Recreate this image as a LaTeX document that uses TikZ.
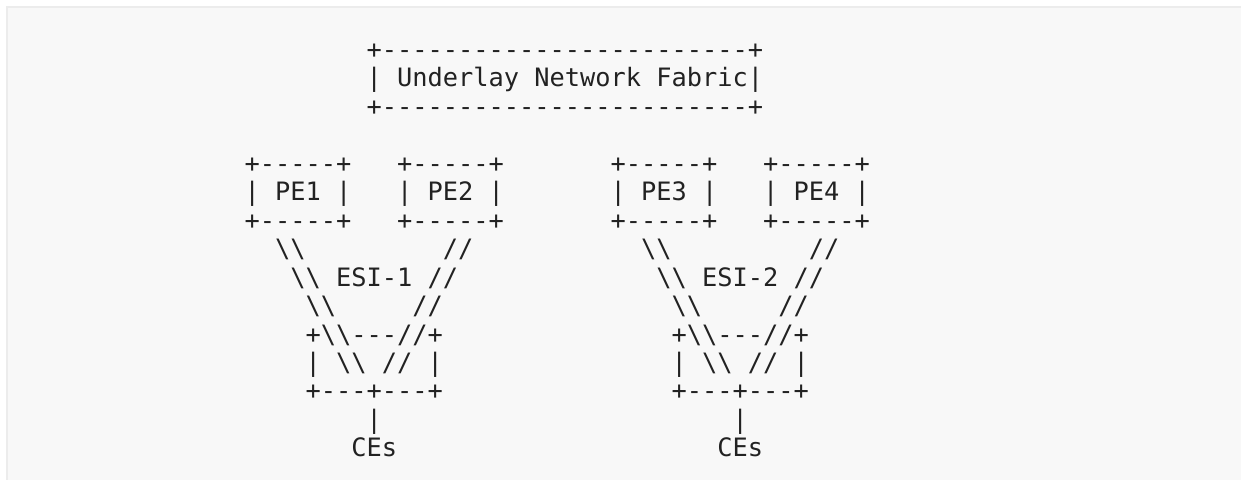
\documentclass[tikz,border=0pt]{standalone}
\usepackage{fontspec}
\setmonofont{DejaVu Sans Mono}
\definecolor{ink}{HTML}{222222}
\definecolor{bgfill}{HTML}{F8F8F8}
\definecolor{bdline}{HTML}{ECECEC}
\newcommand\bs{\textbackslash}
\tikzset{
  asc/.style={anchor=base west, inner sep=0pt, outer sep=0pt,
    font=\ttfamily\fontsize{25.33pt}{28.45pt}\selectfont, text=ink},
}
\def\cw{15.25}
\def\xo{0.7}
\def\yo{58.5}
\def\lh{28.45}
\begin{document}
\begin{tikzpicture}[x=1pt,y=-1pt]
\useasboundingbox (0,0) rectangle (1241,480);
\fill[white] (0,0) rectangle (1241,480);
\fill[bgfill] (6,6) rectangle (1241,480);
\draw[bdline, line width=2pt] (7,480) -- (7,7) -- (1241,7);

% Underlay fabric box
\node[asc] (fabT) at ({\xo+24*\cw},{\yo+0*\lh}) {+------------------------+};
\node[asc] (fab)  at ({\xo+24*\cw},{\yo+1*\lh}) {| Underlay Network Fabric|};
\node[asc] (fabB) at ({\xo+24*\cw},{\yo+2*\lh}) {+------------------------+};

% PE boxes
\foreach \c/\n in {16/1,26/2,40/3,50/4}{
  \node[asc] (pe\n T) at ({\xo+\c*\cw},{\yo+4*\lh}) {+-----+};
  \node[asc] (pe\n)   at ({\xo+\c*\cw},{\yo+5*\lh}) {| PE\n\ |};
  \node[asc] (pe\n B) at ({\xo+\c*\cw},{\yo+6*\lh}) {+-----+};
}

% ES links, left (ESI-1) and right (ESI-2)
\foreach \o/\k in {0/1,24/2}{
  \node[asc] (l\k a) at ({\xo+(18+\o)*\cw},{\yo+7*\lh}) {\bs\bs};
  \node[asc] (r\k a) at ({\xo+(29+\o)*\cw},{\yo+7*\lh}) {//};
  \node[asc] (esi\k) at ({\xo+(19+\o)*\cw},{\yo+8*\lh}) {\bs\bs\ ESI-\k\ //};
  \node[asc] (l\k c) at ({\xo+(20+\o)*\cw},{\yo+9*\lh}) {\bs\bs};
  \node[asc] (r\k c) at ({\xo+(27+\o)*\cw},{\yo+9*\lh}) {//};
  \node[asc] (ce\k T) at ({\xo+(20+\o)*\cw},{\yo+10*\lh}) {+\bs\bs---//+};
  \node[asc] (ce\k M) at ({\xo+(20+\o)*\cw},{\yo+11*\lh}) {| \bs\bs\ // |};
  \node[asc] (ce\k B) at ({\xo+(20+\o)*\cw},{\yo+12*\lh}) {+---+---+};
  \node[asc] (ce\k L) at ({\xo+(24+\o)*\cw},{\yo+13*\lh}) {|};
  \node[asc] (ces\k)  at ({\xo+(23+\o)*\cw},{\yo+14*\lh}) {CEs};
}
\end{tikzpicture}
\end{document}
